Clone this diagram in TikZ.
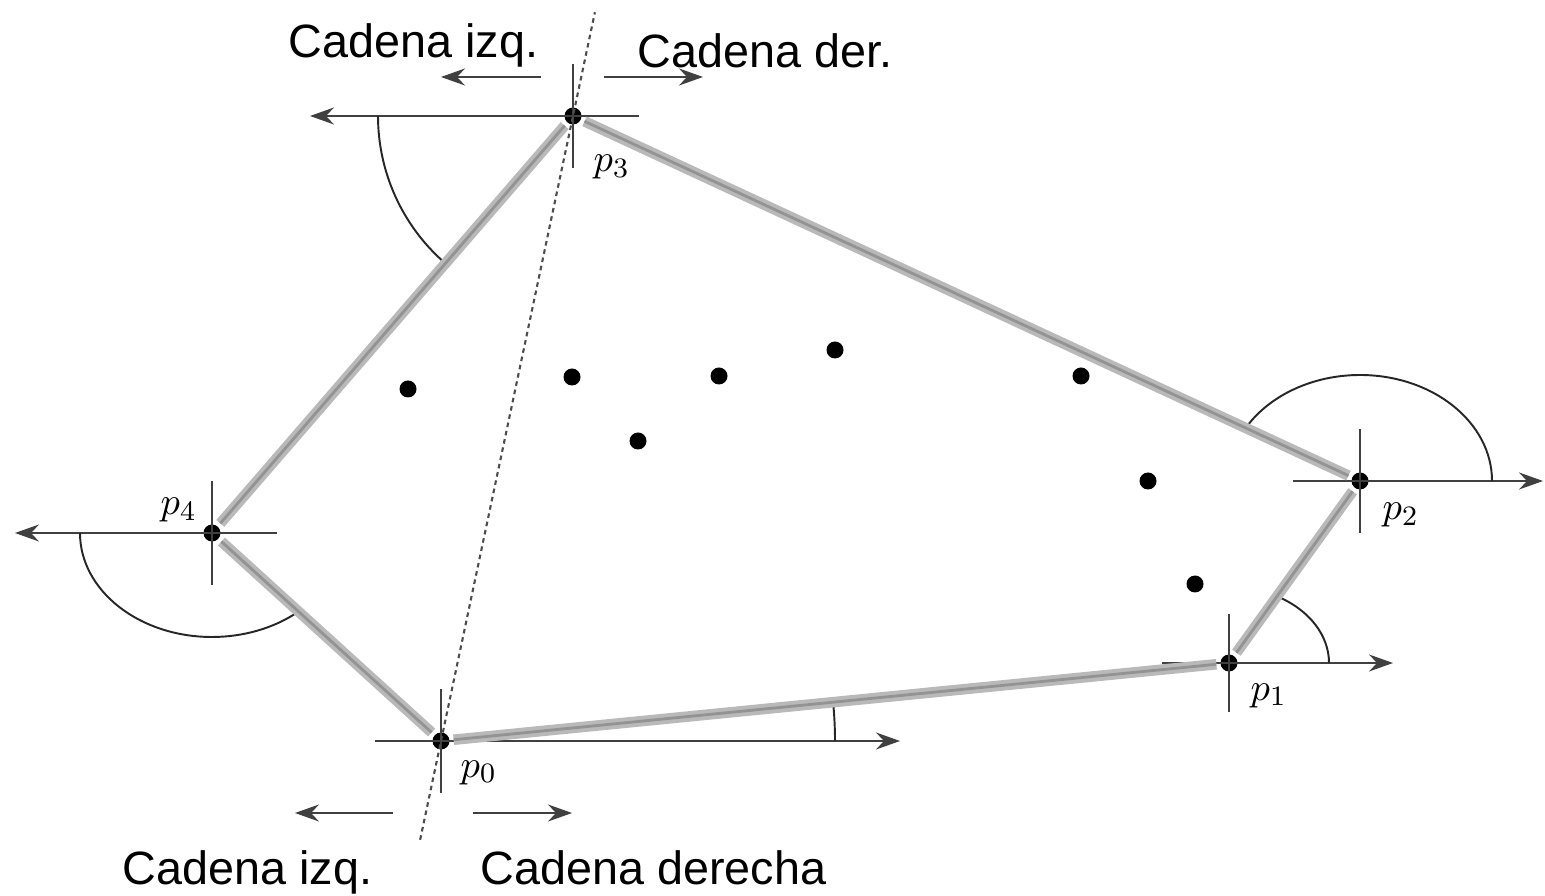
\documentclass[tikz,border=0pt]{standalone}
\usepackage{fontspec}
\setmainfont{Liberation Sans}
\usetikzlibrary{arrows.meta,calc}

\begin{document}
\begin{tikzpicture}[
  dot/.style={circle, fill=black, inner sep=0pt, minimum size=1.7mm},
  hull/.style={draw=gray!55, line width=3pt, shorten <=1pt, shorten >=1pt, postaction={draw=gray!85, line width=0.8pt}},
  tick/.style={draw=black!75, line width=0.6pt},
  arr/.style={tick, -{Stealth[length=2.4mm, width=1.7mm, inset=0.8mm]}},
  angarc/.style={draw=black!85, line width=0.55pt},
  divide/.style={draw=black!70, line width=0.6pt, dash pattern=on 1.3pt off 1.1pt},
  lbl/.style={font=\fontsize{13.3}{16}\selectfont, anchor=base west, inner sep=0pt},
  pt/.style={font=\fontsize{11}{13}\selectfont, anchor=base west, inner sep=0pt}
]
\useasboundingbox (0,0) rectangle (15.45,8.95);
\node[dot] (p0) at (4.41,1.54) {};
\node[dot] (p1) at (12.29,2.32) {};
\node[dot] (p2) at (13.60,4.14) {};
\node[dot] (p3) at (5.73,7.79) {};
\node[dot] (p4) at (2.12,3.62) {};
\node[dot] (q1) at (4.08,5.06) {};
\node[dot] (q2) at (5.72,5.18) {};
\node[dot] (q3) at (7.19,5.19) {};
\node[dot] (q4) at (8.35,5.45) {};
\node[dot] (q5) at (10.81,5.19) {};
\node[dot] (q6) at (6.38,4.54) {};
\node[dot] (q7) at (11.48,4.14) {};
\node[dot] (q8) at (11.95,3.11) {};
\coordinate (x0) at (9.00,1.54);
\coordinate (x1) at (13.93,2.32);
\coordinate (x2) at (15.43,4.14);
\coordinate (x3) at (3.10,7.79);
\coordinate (x4) at (0.15,3.62);
\draw[arr] ([xshift=-6.6mm]p0.center) -- (x0);
\draw[tick] ([yshift=5.2mm]p0.center) -- ([yshift=-5.2mm]p0.center);
\draw[arr] ([xshift=-6.7mm]p1.center) -- (x1);
\draw[tick] ([yshift=4.9mm]p1.center) -- ([yshift=-4.9mm]p1.center);
\draw[arr] ([xshift=-6.7mm]p2.center) -- (x2);
\draw[tick] ([yshift=5.2mm]p2.center) -- ([yshift=-5.2mm]p2.center);
\draw[arr] ([xshift=6.6mm]p3.center) -- (x3);
\draw[tick] ([yshift=5.2mm]p3.center) -- ([yshift=-5.2mm]p3.center);
\draw[arr] ([xshift=6.5mm]p4.center) -- (x4);
\draw[tick] ([yshift=5.2mm]p4.center) -- ([yshift=-5.2mm]p4.center);
\draw[angarc] ([shift={(0:3.94)}]p0.center) arc[start angle=0, end angle=5.65, radius=3.94];
\draw[angarc] ([shift={(1.00,0)}]p1.center) arc[start angle=0, end angle=60.7, x radius=1.00, y radius=0.76];
\draw[angarc] ([shift={(1.32,0)}]p2.center) arc[start angle=0, end angle=149.3, x radius=1.32, y radius=1.06];
\draw[angarc] ([shift={(180:1.95)}]p3.center) arc[start angle=180, end angle=228.8, radius=1.95];
\draw[angarc] ([shift={(-1.32,0)}]p4.center) arc[start angle=180, end angle=310.4, x radius=1.32, y radius=1.04];
\draw[hull] (p0) -- (p1);
\draw[hull] (p1) -- (p2);
\draw[hull] (p2) -- (p3);
\draw[hull] (p3) -- (p4);
\draw[hull] (p4) -- (p0);
\draw[divide] ($(p0.center)!-0.158!(p3.center)$) -- ($(p0.center)!1.166!(p3.center)$);
\node[pt] (l0) at (4.60,1.18) {$p_0$};
\node[pt] (l1) at (12.50,1.95) {$p_1$};
\node[pt] (l2) at (13.82,3.75) {$p_2$};
\node[pt] (l3) at (5.93,7.23) {$p_3$};
\node[pt] (l4) at (1.60,3.80) {$p_4$};
\coordinate (tl) at (5.41,8.18);
\coordinate (tlx) at (4.41,8.18);
\coordinate (tr) at (6.04,8.18);
\coordinate (trx) at (7.03,8.18);
\coordinate (bl) at (3.93,0.82);
\coordinate (blx) at (2.95,0.82);
\coordinate (br) at (4.73,0.82);
\coordinate (brx) at (5.72,0.82);
\draw[arr] (tl) -- (tlx);
\draw[arr] (tr) -- (trx);
\draw[arr] (bl) -- (blx);
\draw[arr] (br) -- (brx);
\node[lbl] (izqtop) at (2.88,8.37) {Cadena izq.};
\node[lbl] (dertop) at (6.37,8.27) {Cadena der.};
\node[lbl] (izqbot) at (1.22,0.11) {Cadena izq.};
\node[lbl] (derbot) at (4.80,0.11) {Cadena derecha};
\end{tikzpicture}
\end{document}
